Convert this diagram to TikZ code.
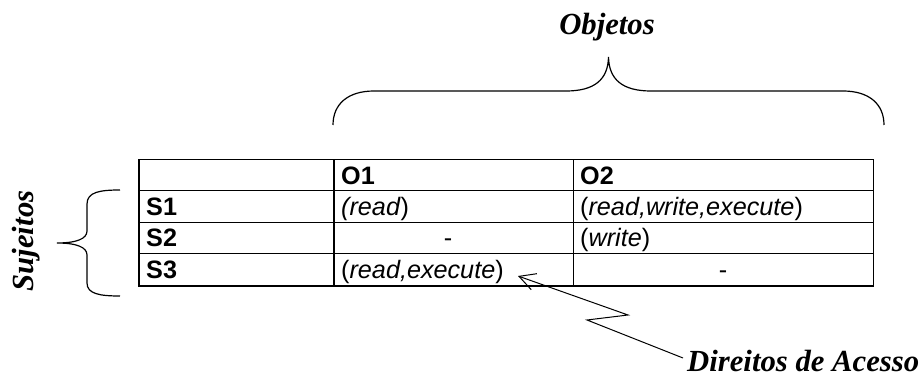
\documentclass[tikz,border=0pt]{standalone}
\usepackage{fontspec}
\setmainfont{Liberation Serif}
\newfontfamily\arialf{Liberation Sans}
\usetikzlibrary{arrows.meta}
\begin{document}
\begin{tikzpicture}[x=1pt,y=-1pt,
  cell/.style={font=\arialf\fontsize{25.2}{28}\selectfont, inner sep=0pt, anchor=base west},
  cellc/.style={font=\arialf\fontsize{25.2}{28}\selectfont, inner sep=0pt, anchor=base},
  biglabel/.style={font=\fontsize{30.7}{34}\selectfont\bfseries\itshape, inner sep=0pt},
  gridline/.style={line width=1pt},
  heavyline/.style={line width=2pt},
  bracel/.style={line width=1.2pt},
  pointer/.style={line width=1pt, line join=miter, -{Straight Barb[length=16pt,width=17pt,line width=1pt]}}
]
\useasboundingbox (0,0) rectangle (922,379);

% table grid
\draw[gridline] (139,160) rectangle (873,286);
\draw[gridline] (139,191) -- (873,191);
\draw[gridline] (139,223) -- (873,223);
\draw[gridline] (139,254) -- (873,254);
\draw[gridline] (573,160) -- (573,286);
\draw[heavyline] (139,159.5) -- (139,287);
\draw[heavyline] (334,160) -- (334,286);
\draw[heavyline] (138,286) -- (874,286);

% cells
\node[cell] (h1) at (341,184.5) {\textbf{O1}};
\node[cell] (h2) at (580,184.5) {\textbf{O2}};
\node[cell] (s1) at (146,215.5) {\textbf{S1}};
\node[cell] (s2) at (146,247) {\textbf{S2}};
\node[cell] (s3) at (146,279) {\textbf{S3}};
\node[cell] (c11) at (341,215.5) {\textit{(read})};
\node[cell] (c12) at (580,215.5) {(\textit{read,write,execute})};
\node[cellc] (c21) at (448,247) {-};
\node[cell] (c22) at (580,247) {(\textit{write})};
\node[cell] (c31) at (341,279) {(\textit{read,execute})};
\node[cellc] (c32) at (723,279) {-};

% labels
\node[biglabel, anchor=base] (obj) at (607,35) {Objetos};
\node[biglabel, anchor=base west] (dir) at (687,372) {Direitos de Acesso};
\node[biglabel, rotate=90, anchor=base] (suj) at (33,241) {Sujeitos};

% braces
\draw[bracel] (333,125) .. controls (333,104) and (348,91) .. (374,91) -- (566,91)
  .. controls (594,91) and (608,80) .. (608.5,57)
  .. controls (609,80) and (623,91) .. (651,91) -- (843,91)
  .. controls (869,91) and (884,104) .. (884,125);
\draw[bracel] (120,190) .. controls (100,190) and (87,192) .. (87,204) -- (87,231)
  .. controls (87,239) and (76,243) .. (57,243)
  .. controls (76,243) and (87,247) .. (87,255) -- (87,283)
  .. controls (87,294) and (100,296) .. (120,296);

% pointer
\coordinate (z0) at (683,358);
\coordinate (z1) at (587,320);
\coordinate (z2) at (628,315);
\coordinate (tip) at (518,276);
\draw[pointer] (z0) -- (z1) -- (z2) -- (tip);
\end{tikzpicture}
\end{document}
